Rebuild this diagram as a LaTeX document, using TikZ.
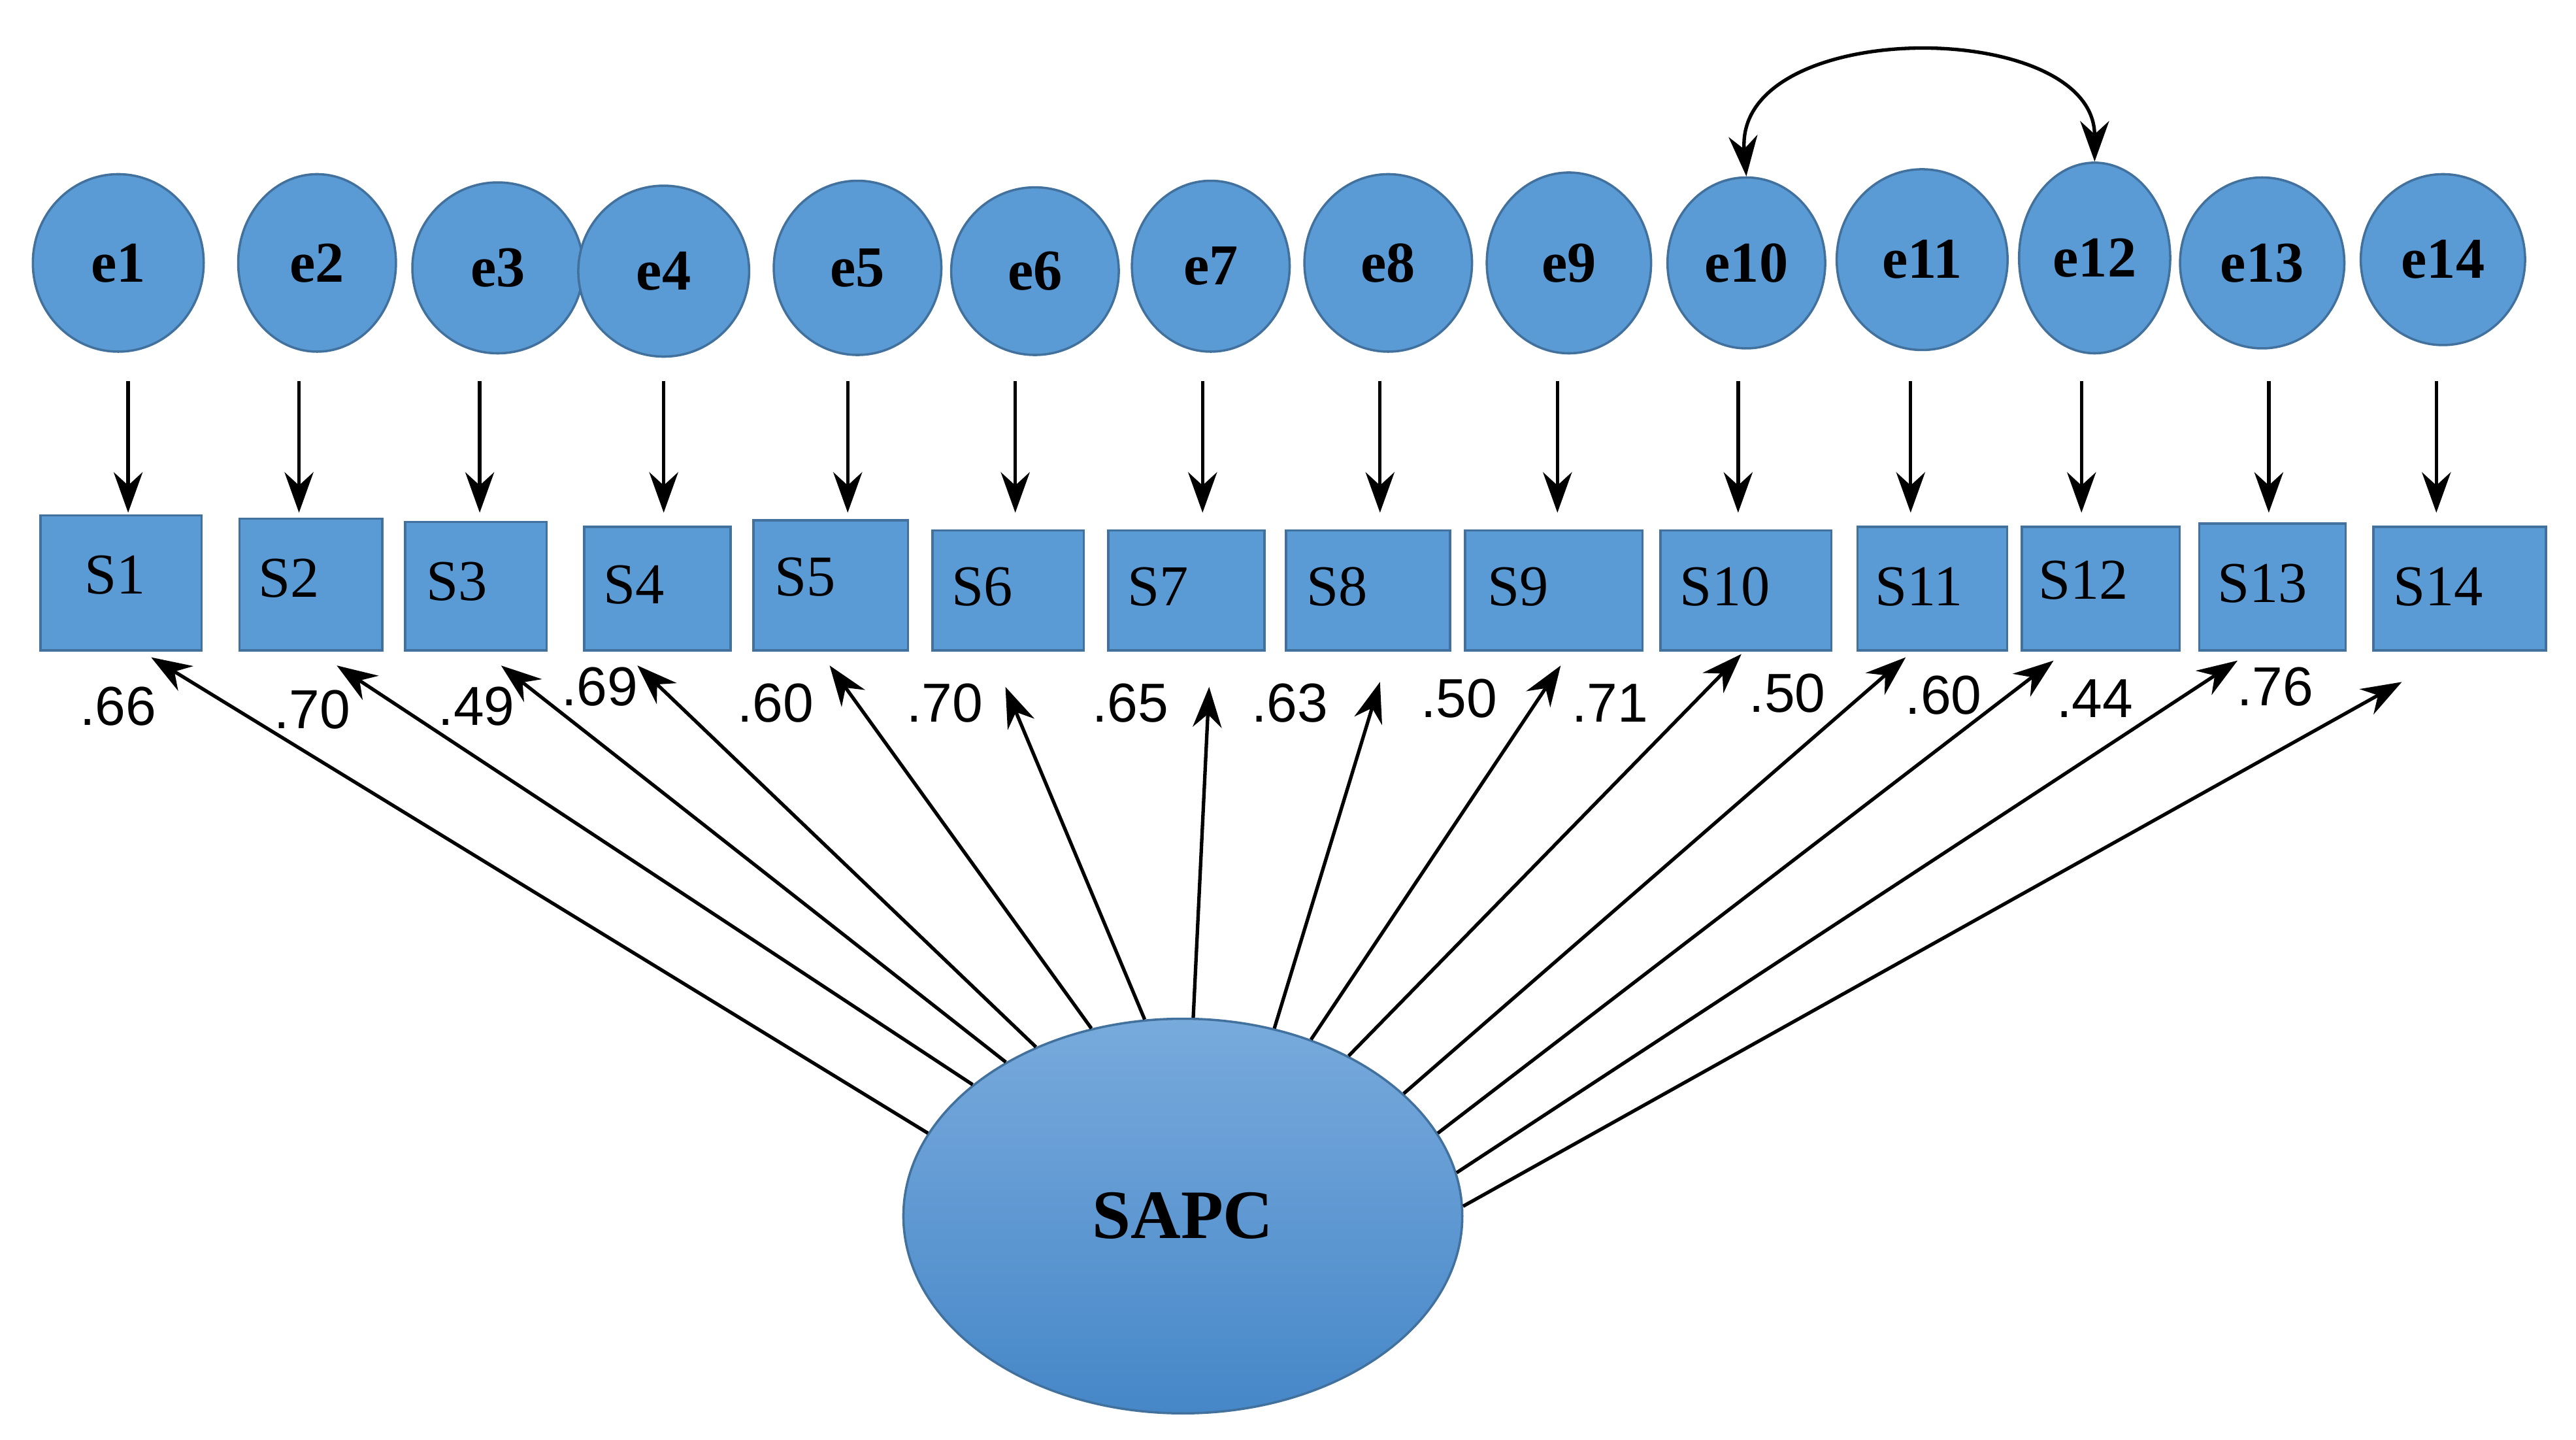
\documentclass[tikz,border=0pt]{standalone}
\usepackage{fontspec}
\setmainfont{Liberation Serif}
\newfontfamily\numfont{Liberation Sans}
\usetikzlibrary{arrows.meta, shapes.geometric}
\definecolor{semfill}{RGB}{91,155,213}
\definecolor{semline}{RGB}{65,113,156}
\definecolor{semtop}{RGB}{120,170,220}
\definecolor{sembot}{RGB}{70,135,200}

\begin{document}
\begin{tikzpicture}[x=0.01cm, y=-0.01cm,
  err/.style={ellipse, fill=semfill, draw=semline, thin, inner sep=0pt,
    font=\fontsize{10}{10}\selectfont\bfseries},
  item/.style={rectangle, fill=semfill, draw=semline, thin, inner sep=0pt,
    font=\fontsize{10}{10}\selectfont},
  load/.style={font=\numfont\fontsize{9.5}{10}\selectfont},
  path/.style={-{Stealth[length=7pt,width=5pt]}, semithick}]

  \useasboundingbox (0,0) rectangle (1568,876);

  % error terms
  \foreach \n/\x/\y/\w/\h in {1/72/160/104/108, 2/193/160/96/108, 3/303/163/104/104,
      4/404/165/104/104, 5/522/163/102/106, 6/630/165/102/102, 7/737/162/96/104,
      8/845/160/102/108, 9/955/160/100/110, 10/1063/160/96/104, 11/1170/158/104/110,
      12/1275/157/92/116, 13/1377/160/100/104, 14/1487/158/100/104}
    \node[err, minimum width={\w*0.01cm}, minimum height={\h*0.01cm}] (e\n) at (\x,\y) {e\n};

  % observed items
  \foreach \n/\xa/\ya/\xb in {1/24/313/122, 2/145/315/232, 3/246/317/332, 4/355/320/444,
      5/458/316/552, 6/567/322/659, 7/674/322/769, 8/782/322/882, 9/891/322/999,
      10/1010/322/1114, 11/1130/320/1221, 12/1230/320/1326, 13/1338/318/1427,
      14/1444/320/1549}
    \node[item, minimum width={(\xb-\xa)*0.01cm}, minimum height={(395-\ya)*0.01cm},
      anchor=north west] (S\n) at (\xa,\ya) {};
  \foreach \n/\x/\y in {1/70/350, 2/176/352, 3/278/354, 4/386/356, 5/490/351, 6/598/357,
      7/705/357, 8/814/357, 9/924/357, 10/1050/357, 11/1168/357, 12/1268/353,
      13/1377/355, 14/1484/357}
    \node[font=\fontsize{10}{10}\selectfont] (t\n) at (\x,\y) {S\n};

  % error paths
  \foreach \n/\x in {1/78, 2/182, 3/292, 4/404, 5/516, 6/618, 7/732, 8/840, 9/948,
      10/1058, 11/1163, 12/1267, 13/1381, 14/1483} {
    \coordinate (a\n) at (\x,232);
    \coordinate (b\n) at (\x,312);
    \draw[path] (a\n) -- (b\n);
  }

  % latent factor
  \node[ellipse, minimum width=3.4cm, minimum height=2.4cm, top color=semtop,
    bottom color=sembot, draw=semline, thin,
    font=\fontsize{12}{12}\selectfont\bfseries] (sapc) at (720,740) {SAPC};

  % loadings
  \foreach \n/\a/\x/\y in {1/162/92/400, 2/148/205/405, 3/139/305/405, 4/131/388/405,
      5/116/505/405, 6/101/612/418, 7/87/736/418, 8/64/840/415, 9/54/950/405,
      10/44/1060/398, 11/29/1160/400, 12/18/1250/402, 13/9/1362/402, 14/2/1462/415} {
    \coordinate (h\n) at (\x,\y);
    \draw[path] (sapc.\a) -- (h\n);
  }

  \foreach \v/\x/\y [count=\i] in {.66/72/430, .70/190/432, .49/290/430, .69/365/418,
      .60/472/428, .70/575/428, .65/688/428, .63/785/428, .50/888/425, .71/980/428,
      .50/1088/422, .60/1183/423, .44/1275/425, .76/1385/418}
    \node[load] (l\i) at (\x,\y) {\v};

  % correlated errors
  \draw[{Stealth[length=7pt,width=5pt]}-{Stealth[length=7pt,width=5pt]}, semithick]
    (e10.north) .. controls (1055,10) and (1275,10) .. (e12.north);
\end{tikzpicture}
\end{document}
